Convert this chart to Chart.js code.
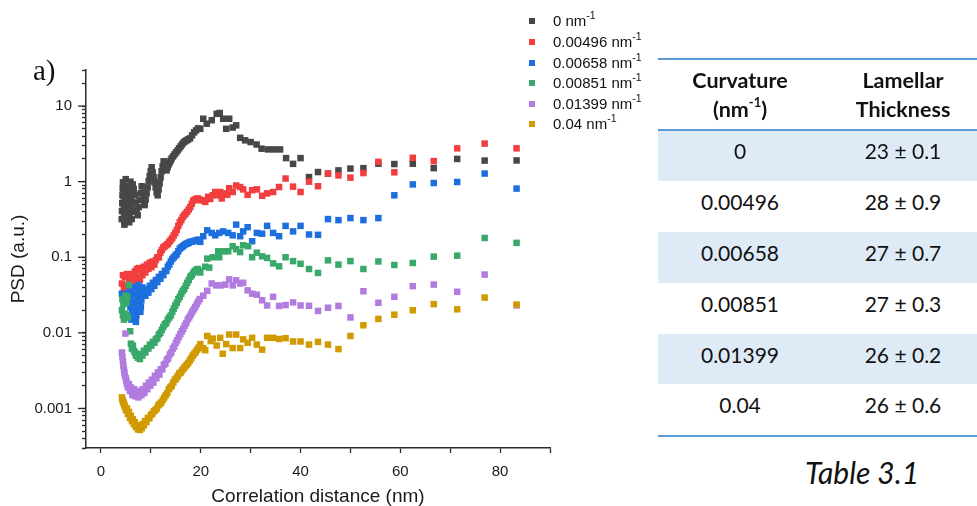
<!DOCTYPE html>
<html><head><meta charset="utf-8">
<script src="https://cdn.jsdelivr.net/npm/chart.js@4.4.1/dist/chart.umd.min.js"></script>
<style>
html,body{margin:0;padding:0;background:#fff;}
body{width:977px;height:506px;overflow:hidden;position:relative;font-family:"Liberation Sans",Arial,sans-serif;}
#wrap{position:absolute;left:0;top:0;width:560px;height:506px;}
#alabel{position:absolute;left:33px;top:53px;font-family:"Liberation Serif","Times New Roman",serif;font-size:29px;line-height:34px;color:#111;}
.lg{position:absolute;left:529px;height:18px;line-height:18px;font-size:15px;color:#111;white-space:nowrap;}
.lg i{position:absolute;left:0;top:6px;width:6px;height:6px;}
.lg span{position:absolute;left:24px;top:0;}
.lg sup{font-size:10.5px;line-height:0;position:relative;top:-1px;}
.rule{position:absolute;left:658px;width:319px;height:2px;background:#5B9BD5;}
.band{position:absolute;left:658px;width:319px;background:#DEEAF6;}
.tc{position:absolute;width:200px;text-align:center;font-family:Lato,"Open Sans",sans-serif;font-size:21px;line-height:30px;color:#111;white-space:nowrap;}
.th{font-weight:bold;font-size:21.5px;}
.tc sup{font-size:13px;line-height:0;position:relative;top:-1px;}
#cap{position:absolute;left:762px;width:200px;text-align:center;top:454px;font-family:Lato,"Open Sans",sans-serif;font-style:italic;font-size:30px;line-height:36px;color:#111;}
</style></head><body>
<div id="wrap"><canvas id="c"></canvas></div>
<div id="alabel">a)</div>
<div id="legend"></div>
<div id="table"></div>
<div id="cap">Table 3.1</div>
<script>
// ---- data ----
const seriesNames = ['0', '0.00496', '0.00658', '0.00851', '0.01399', '0.04'];
const seriesColors = ['#474747', '#F23E3E', '#1D6FDE', '#38A96B', '#B27BE0', '#D19A00'];

const grayX = [4.16,4.21,4.26,4.31,4.36,4.41,4.46,4.51,4.56,4.61,4.66,4.71,4.76,4.81,4.86,4.91,4.96,5.01,5.06,5.11,5.16,5.21,5.26,5.31,5.36,5.41,5.46,5.51,5.56,5.61,5.66,5.71,5.76,5.81,5.86,5.91,5.96,6.01,6.06,6.11,6.16,6.21,6.26,6.31,6.36,6.56,6.76,6.96,7.16,7.36,7.56,7.76,7.96,8.16,8.36,8.56,8.76,8.96,9.16,9.36,9.56,9.76,9.96,10.16,10.36,10.56,10.76,10.96,11.16,11.36,11.56,11.76,11.96,12.16,12.36,12.56,12.76,12.96,13.16,13.36,13.56,13.76,13.96,14.16,14.46,14.76,15.06,15.36,15.66,15.96,16.26,16.56,16.86,17.16,17.46,17.86,18.26,18.66,19.06,19.46,19.9,20.5,21.2,22.2,23.2,23.8,24.5,25.1,25.7,26.4,27.1,27.9,28.9,30.0,31.2,32.2,33.5,34.7,35.9,37.1,38.5,40.0,41.7,43.5,45.5,47.6,50.0,52.6,55.6,58.8,62.5,66.7,71.4,76.9,83.3];
const grayY = [0.32,0.41,0.52,0.66,0.82,0.98,0.80,0.64,0.5,0.39,0.3,0.27,0.36,0.48,0.63,0.82,1.08,0.86,0.67,0.52,0.41,0.33,0.42,0.53,0.68,0.88,0.72,0.58,0.46,0.36,0.29,0.37,0.47,0.6,0.77,1.0,0.8,0.63,0.5,0.4,0.32,0.41,0.53,0.7,0.92,0.80,0.66,0.53,0.43,0.36,0.46,0.57,0.70,0.87,0.72,0.58,0.49,0.58,0.70,0.84,1.01,1.18,1.37,1.55,1.33,1.14,0.98,0.84,0.72,0.66,0.79,0.95,1.14,1.37,1.59,1.86,1.69,1.55,1.41,1.55,1.69,1.80,1.91,2.03,2.16,2.30,2.44,2.59,2.76,2.93,3.11,3.31,3.41,3.52,3.62,3.74,4.10,4.49,4.77,5.07,5.0,6.8,5.85,6.5,7.9,8.1,6.8,5.0,6.8,5.2,5.56,3.8,3.52,3.34,3.1,2.73,2.67,2.67,2.67,2.05,1.72,2.05,1.15,1.34,1.28,1.41,1.49,1.51,1.73,1.71,1.73,1.51,2.0,1.90,1.91];

const redX = [4.2,4.4,4.6,4.8,5.0,5.2,5.4,5.6,5.8,6.0,6.2,6.4,6.6,6.8,7.0,7.2,7.4,7.6,7.8,8.0,8.3,8.6,8.9,9.2,9.5,9.8,10.1,10.4,10.7,11.0,11.3,11.6,11.9,12.2,12.5,12.8,13.1,13.4,13.7,14.0,14.3,14.6,14.9,15.2,15.5,15.8,16.1,16.4,16.7,17.0,17.3,17.6,17.9,18.2,18.5,18.8,19.1,19.4,19.7,20.0,20.5,20.9,21.5,21.9,22.4,22.9,23.5,23.9,24.2,24.9,25.3,25.7,26.4,27.1,27.9,28.5,29.4,30.3,31.25,32.3,33.3,34.5,35.7,37.0,38.5,40.0,41.7,43.5,45.5,47.6,50.0,52.6,55.6,58.8,62.5,66.7,71.4,76.9,83.3];
const redY = [0.045,0.058,0.038,0.055,0.042,0.06,0.04,0.052,0.037,0.058,0.045,0.06,0.048,0.065,0.05,0.07,0.055,0.072,0.05,0.068,0.058,0.075,0.063,0.08,0.07,0.085,0.074,0.088,0.08,0.092,0.1,0.1,0.115,0.125,0.135,0.14,0.145,0.15,0.16,0.17,0.18,0.195,0.21,0.23,0.26,0.29,0.31,0.34,0.36,0.38,0.4,0.43,0.46,0.51,0.56,0.58,0.59,0.6,0.58,0.566,0.57,0.54,0.63,0.59,0.66,0.73,0.66,0.73,0.6,0.70,0.67,0.82,0.73,0.89,0.85,0.79,0.67,0.77,0.79,0.65,0.70,0.73,0.85,1.10,0.86,0.73,1.0,0.87,1.28,1.21,1.13,1.30,1.83,1.33,2.07,1.87,2.76,3.19,2.76];

const blueX = [4.2,4.6,5.0,5.4,5.7,5.8,5.9,6.0,6.1,6.2,6.3,6.4,6.5,6.6,6.7,6.8,6.9,7.0,7.1,7.2,7.3,7.4,7.5,7.6,7.7,7.8,7.9,8.0,8.1,8.2,8.3,8.4,8.6,8.9,9.2,9.5,9.8,10.1,10.4,10.7,11.0,11.3,11.6,11.9,12.2,12.5,12.8,13.1,13.4,13.7,14.0,14.3,14.6,14.9,15.2,15.5,15.8,16.1,16.4,16.7,17.0,17.3,17.6,17.9,18.2,18.5,18.8,19.1,19.4,19.7,19.9,20.5,21.3,22.2,22.9,23.7,24.5,25.5,26.4,27.1,27.9,28.5,29.4,30.3,31.25,32.3,33.3,34.5,35.7,37.0,38.5,40.0,41.7,43.5,45.5,47.6,50.0,52.6,55.6,58.8,62.5,66.7,71.4,76.9,83.3];
const blueY = [0.033,0.03,0.032,0.029,0.035,0.028,0.022,0.017,0.015,0.019,0.025,0.032,0.04,0.033,0.026,0.02,0.016,0.014,0.017,0.022,0.028,0.035,0.043,0.036,0.029,0.023,0.019,0.022,0.027,0.033,0.04,0.034,0.036,0.031,0.038,0.034,0.042,0.038,0.046,0.042,0.05,0.047,0.055,0.052,0.06,0.058,0.066,0.066,0.075,0.08,0.088,0.095,0.1,0.105,0.11,0.12,0.13,0.135,0.14,0.145,0.15,0.152,0.156,0.16,0.16,0.163,0.165,0.167,0.17,0.17,0.16,0.19,0.227,0.21,0.195,0.21,0.22,0.21,0.195,0.27,0.19,0.22,0.25,0.163,0.21,0.205,0.26,0.21,0.19,0.26,0.22,0.26,0.2,0.198,0.32,0.31,0.33,0.31,0.33,0.66,0.92,0.96,0.99,1.28,0.81];

const greenX = [4.2,4.3,4.4,4.5,4.6,4.7,4.8,4.9,5.0,5.1,5.2,5.3,5.4,5.6,5.85,6.0,6.2,6.4,6.6,6.8,7.0,7.2,7.4,7.6,7.8,8.0,8.3,8.6,8.9,9.2,9.5,9.8,10.1,10.4,10.7,11.0,11.3,11.6,11.9,12.2,12.5,12.8,13.1,13.4,13.7,14.0,14.3,14.6,14.9,15.2,15.5,15.8,16.1,16.4,16.7,17.0,17.3,17.6,17.9,18.2,18.5,18.8,19.1,19.4,19.7,19.9,20.9,21.3,21.7,22.4,23.5,23.7,24.7,25.5,26.4,27.1,27.9,28.5,29.5,30.3,31.25,32.3,33.3,34.5,35.7,37.0,38.5,40.0,41.7,43.5,45.5,47.6,50.0,52.6,55.6,58.8,62.5,66.7,71.4,76.9,83.3];
const greenY = [0.02,0.028,0.017,0.024,0.015,0.027,0.018,0.031,0.016,0.025,0.017,0.03,0.016,0.043,0.0105,0.0072,0.0062,0.0068,0.0058,0.0055,0.005,0.0053,0.0047,0.0048,0.0045,0.0052,0.005,0.0058,0.0055,0.0063,0.0062,0.007,0.0068,0.0076,0.0074,0.0082,0.0085,0.0095,0.01,0.011,0.012,0.013,0.0135,0.015,0.016,0.017,0.019,0.021,0.023,0.025,0.028,0.03,0.033,0.036,0.038,0.042,0.046,0.05,0.055,0.058,0.062,0.066,0.068,0.07,0.066,0.063,0.075,0.096,0.073,0.1,0.12,0.1,0.12,0.12,0.14,0.128,0.117,0.144,0.14,0.1,0.115,0.103,0.098,0.083,0.076,0.1,0.089,0.082,0.07,0.062,0.091,0.08,0.089,0.07,0.088,0.079,0.084,0.102,0.105,0.18,0.155];

const purpleX = [4.2,4.3,4.4,4.5,4.6,4.7,4.8,4.9,5.0,5.1,5.2,5.4,5.6,5.8,6.0,6.3,6.6,6.9,7.2,7.5,7.8,8.1,8.4,8.7,9.0,9.3,9.6,9.9,10.2,10.5,10.8,11.1,11.4,11.7,12.0,12.3,12.6,12.9,13.2,13.5,13.8,14.1,14.4,14.7,15.0,15.3,15.6,15.9,16.2,16.5,16.8,17.1,17.4,17.7,18.0,18.3,18.6,18.9,19.2,19.5,19.8,20.5,21.3,22.2,23.1,24.0,24.9,25.7,26.4,27.1,27.9,28.5,29.4,30.3,31.25,32.3,33.3,34.5,35.7,37.0,38.5,40.0,41.7,43.5,45.5,47.6,50.0,52.6,55.6,58.8,62.5,66.7,71.4,76.9,83.3];
const purpleY = [0.0055,0.0048,0.0042,0.0037,0.0033,0.003,0.0027,0.0098,0.0025,0.0023,0.0021,0.0019,0.0021,0.0017,0.0019,0.0015,0.0018,0.00145,0.0017,0.0014,0.0017,0.0015,0.0018,0.0016,0.002,0.0018,0.0022,0.002,0.0024,0.0022,0.0027,0.0025,0.003,0.0028,0.0033,0.0033,0.0038,0.0039,0.0044,0.0046,0.0052,0.0055,0.0062,0.0066,0.0074,0.008,0.0088,0.0096,0.0105,0.0113,0.0125,0.0135,0.015,0.016,0.0175,0.019,0.0205,0.022,0.024,0.026,0.028,0.031,0.036,0.045,0.0425,0.0425,0.0435,0.051,0.0425,0.0495,0.045,0.046,0.0365,0.033,0.032,0.027,0.023,0.03,0.0227,0.0233,0.0253,0.023,0.0228,0.0195,0.0215,0.0227,0.016,0.0355,0.025,0.03,0.0415,0.0435,0.035,0.059,0.0231];

const goldX = [4.2,4.3,4.4,4.5,4.6,4.7,4.8,5.0,5.2,5.4,5.6,5.8,6.0,6.2,6.4,6.6,6.8,7.0,7.2,7.4,7.6,7.8,8.0,8.2,8.4,8.6,8.8,9.1,9.4,9.7,10.0,10.3,10.6,10.9,11.2,11.5,11.8,12.1,12.4,12.7,13.0,13.3,13.6,13.9,14.2,14.5,14.8,15.1,15.4,15.7,16.0,16.3,16.6,16.9,17.2,17.5,17.8,18.1,18.4,18.7,19.0,19.3,19.6,19.9,20.5,20.9,21.3,22.0,22.4,23.2,23.9,24.4,25.1,25.7,26.4,27.1,27.9,28.5,29.4,30.3,31.25,32.3,33.3,34.5,35.7,37.0,38.5,40.0,41.7,43.5,45.5,47.6,50.0,52.6,55.6,58.8,62.5,66.7,71.4,76.9,83.3];
const goldY = [0.0014,0.0013,0.00125,0.0012,0.00115,0.0011,0.00105,0.00095,0.001,0.00085,0.0009,0.00075,0.0008,0.00068,0.00072,0.00062,0.00066,0.00057,0.0006,0.00053,0.00058,0.00052,0.00058,0.00055,0.00062,0.0006,0.00068,0.00066,0.00075,0.00074,0.00082,0.00085,0.00092,0.00095,0.001,0.0011,0.00115,0.0012,0.0013,0.0014,0.0015,0.0016,0.0018,0.0019,0.002,0.0022,0.0024,0.0025,0.0027,0.0029,0.003,0.0032,0.0034,0.0036,0.0038,0.004,0.0043,0.0046,0.005,0.0053,0.0056,0.006,0.0064,0.0071,0.0063,0.0059,0.0091,0.0078,0.0084,0.0068,0.0086,0.0053,0.0071,0.0095,0.0063,0.0095,0.0063,0.0082,0.0074,0.0086,0.007,0.006,0.0086,0.0086,0.0083,0.0085,0.0077,0.0077,0.007,0.0076,0.007,0.0061,0.0091,0.0126,0.0153,0.0174,0.0199,0.024,0.0205,0.0293,0.0237];

const xTickValues = [0, 10, 20, 30, 40, 50, 60, 70, 80, 90];
const xTickLabels = ['0', '', '20', '', '40', '', '60', '', '80', ''];
const yTickValues = [0.001, 0.01, 0.1, 1, 10];
const yTickLabels = ['0.001', '0.01', '0.1', '1', '10'];

const tableCurvature = ['0', '0.00496', '0.00658', '0.00851', '0.01399', '0.04'];
const tableThickness = ['23 ± 0.1', '28 ± 0.9', '27 ± 0.7', '27 ± 0.3', '26 ± 0.2', '26 ± 0.6'];

// ---- chart ----
const allX = [grayX, redX, blueX, greenX, purpleX, goldX];
const allY = [grayY, redY, blueY, greenY, purpleY, goldY];
const datasets = seriesNames.map((n, i) => ({
  label: n + ' nm-1',
  data: allX[i].map((x, j) => ({x: x, y: allY[i][j]})),
  pointStyle: 'rect', pointRadius: 4.6, pointHoverRadius: 4.6, borderWidth: 0,
  backgroundColor: seriesColors[i], borderColor: seriesColors[i],
  showLine: false, order: seriesNames.length - i
}));
const axisColor = '#2b2b2b';
// longer tick marks at the labelled decades of the log axis
const majorTicks = {
  id: 'majorTicks',
  afterDraw(chart) {
    const s = chart.scales.y, ctx = chart.ctx;
    ctx.save();
    ctx.strokeStyle = axisColor; ctx.lineWidth = 1.3;
    yTickValues.forEach(v => {
      const y = s.getPixelForValue(v);
      ctx.beginPath(); ctx.moveTo(s.right - 8, y); ctx.lineTo(s.right, y); ctx.stroke();
    });
    ctx.restore();
  }
};
new Chart(document.getElementById('c'), {
  type: 'scatter',
  data: {datasets},
  plugins: [majorTicks],
  options: {
    responsive: true, maintainAspectRatio: false, animation: false, devicePixelRatio: 1,
    layout: {padding: {top: 70, right: 9, left: 0, bottom: 0}},
    plugins: {legend: {display: false}, tooltip: {enabled: false}},
    scales: {
      x: {
        type: 'linear', min: -3, max: 90, bounds: 'data',
        afterBuildTicks: s => { s.ticks = xTickValues.map(v => ({value: v})); },
        afterFit: s => { s.height = 58; },
        ticks: {autoSkip: false, maxRotation: 0, minRotation: 0,
          callback: v => { const k = xTickValues.indexOf(v); return k >= 0 ? xTickLabels[k] : ''; },
          color: '#1a1a1a', font: {family: 'Liberation Sans', size: 15}, padding: 10},
        grid: {display: true, drawOnChartArea: false, drawTicks: true, tickLength: 5, tickColor: axisColor, tickWidth: 1.3},
        border: {display: true, color: axisColor, width: 1.5},
        title: {display: true, text: 'Correlation distance (nm)', color: '#1a1a1a',
          font: {family: 'Liberation Sans', size: 19, lineHeight: 1}, padding: {top: 0, bottom: 0}}
      },
      y: {
        type: 'logarithmic', min: 0.0003, max: 30,
        afterBuildTicks: s => {
          s.ticks = s.ticks.filter(t => {
            const e = Math.floor(Math.log10(t.value) + 1e-9);
            const m = t.value / Math.pow(10, e);
            return Math.abs(m - Math.round(m)) < 1e-6;
          });
        },
        afterFit: s => { s.width = 86; },
        ticks: {autoSkip: false,
          callback: v => { const k = yTickValues.findIndex(t => Math.abs(v / t - 1) < 1e-6); return k >= 0 ? yTickLabels[k] : ''; },
          color: '#1a1a1a', font: {family: 'Liberation Sans', size: 15}, padding: 10},
        grid: {display: true, drawOnChartArea: false, drawTicks: true, tickLength: 4, tickColor: axisColor, tickWidth: 1.3},
        border: {display: true, color: axisColor, width: 1.5},
        title: {display: true, text: 'PSD (a.u.)', color: '#1a1a1a',
          font: {family: 'Liberation Sans', size: 19}, padding: {top: 7.6, bottom: 2}}
      }
    }
  }
});

// ---- legend ----
const legendTops = [12, 33, 53.5, 74, 94.5, 115];
const lg = document.getElementById('legend');
seriesNames.forEach((n, i) => {
  const d = document.createElement('div');
  d.className = 'lg';
  d.style.top = legendTops[i] + 'px';
  d.innerHTML = '<i style="background:' + seriesColors[i] + '"></i><span>' + n + ' nm<sup>-1</sup></span>';
  lg.appendChild(d);
});

// ---- table ----
const tb = document.getElementById('table');
function add(html, cls, left, top, extra) {
  const d = document.createElement('div');
  d.className = cls; d.style.left = left + 'px'; d.style.top = top + 'px';
  if (extra) Object.assign(d.style, extra);
  d.innerHTML = html; tb.appendChild(d); return d;
}
const rowTop = 130.5, rowH = 50.8;
tableCurvature.forEach((c, i) => {
  if (i % 2 === 0) add('', 'band', 658, rowTop + i * rowH, {height: rowH + 'px'});
});
add('', 'rule', 658, 57.5);
add('', 'rule', 658, 128.5);
add('', 'rule', 658, 434.5);
add('Curvature', 'tc th', 640, 80 - 15.5);
add('(nm<sup>-1</sup>)', 'tc th', 640, 109 - 15.5);
add('Lamellar', 'tc th', 803, 80 - 15.5);
add('Thickness', 'tc th', 803, 109 - 15.5);
const textCenters = [151.7, 202, 253.3, 304.3, 355, 405.7];
tableCurvature.forEach((c, i) => {
  add(c, 'tc', 640, textCenters[i] - 15.5);
  add(tableThickness[i], 'tc', 803, textCenters[i] - 15.5);
});
</script>
</body></html>
